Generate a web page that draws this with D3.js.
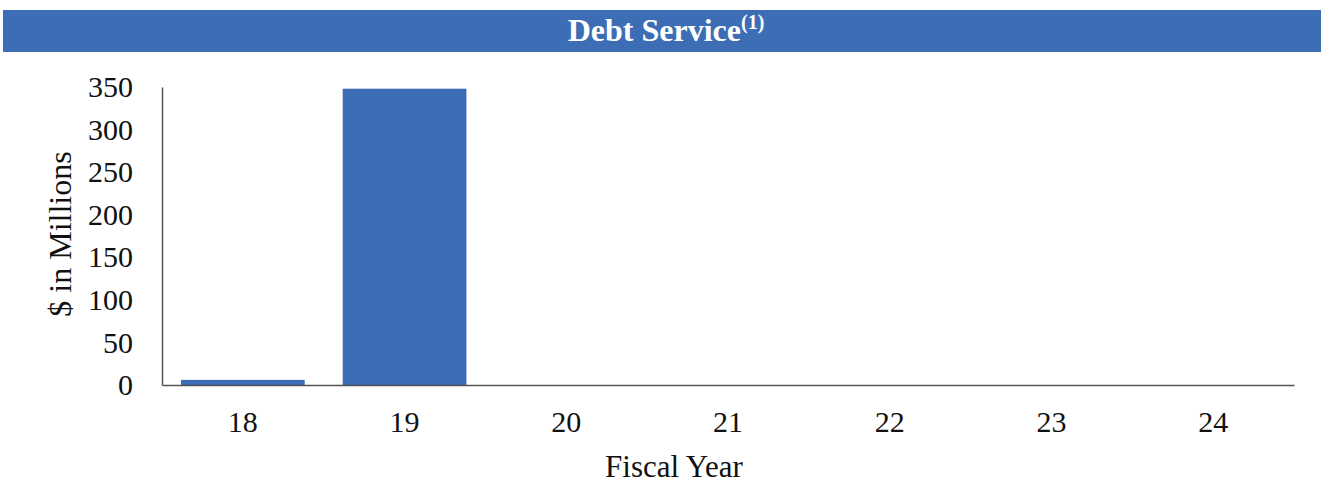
<!DOCTYPE html>
<html><head><meta charset="utf-8">
<script src="https://cdn.jsdelivr.net/npm/d3@7"></script>
<style>body{margin:0;background:#fff}</style>
</head><body>
<svg id="c" width="1324" height="491"></svg>
<script>
const categories = ["18","19","20","21","22","23","24"];
const values = [6, 348, 0, 0, 0, 0, 0];
const yTicks = [0,50,100,150,200,250,300,350];

const svg = d3.select("#c");
const W = 1324, H = 491;
const m = {left:162, right:W-1294, top:87, bottom:H-385};
const x = d3.scaleBand().domain(categories).range([m.left, W-m.right]).paddingInner(0.235).paddingOuter(0.1175);
const y = d3.scaleLinear().domain([0,350]).range([H-m.bottom, m.top]);

// title band
svg.append("rect").attr("x",3).attr("y",10).attr("width",1318).attr("height",42).attr("fill","#3d6db5");
const t = svg.append("text").attr("x",666).attr("y",41).attr("text-anchor","middle")
  .attr("font-family","Liberation Serif").attr("font-weight","bold").attr("font-size",32).attr("fill","#fff");
t.append("tspan").text("Debt Service");
t.append("tspan").attr("font-size",20).attr("dy",-12).text("(1)");

// bars
svg.selectAll("rect.bar").data(values).join("rect").attr("class","bar")
  .attr("x",(d,i)=>x(categories[i])).attr("width",x.bandwidth())
  .attr("y",d=>y(d)).attr("height",d=>y(0)-y(d)).attr("fill","#3d6db5");

// axes
const ya = svg.append("g").attr("transform",`translate(${m.left},0)`)
  .call(d3.axisLeft(y).tickValues(yTicks).tickSize(0).tickPadding(29));
ya.select(".domain").attr("stroke","#555").attr("stroke-width",1.5);
ya.selectAll("text").attr("font-family","Liberation Serif").attr("font-size",30).attr("fill","#111");

const xa = svg.append("g").attr("transform",`translate(0,${H-m.bottom})`)
  .call(d3.axisBottom(x).tickSize(0).tickPadding(26));
xa.select(".domain").attr("stroke","#555").attr("stroke-width",1.5);
xa.selectAll("text").attr("font-family","Liberation Serif").attr("font-size",30).attr("fill","#111");

svg.append("text").attr("x",674).attr("y",477).attr("text-anchor","middle")
  .attr("font-family","Liberation Serif").attr("font-size",31).attr("fill","#111").text("Fiscal Year");
svg.append("text").attr("transform","translate(71,234) rotate(-90)").attr("text-anchor","middle")
  .attr("font-family","Liberation Serif").attr("font-size",32).attr("fill","#111").text("$ in Millions");
</script>
</body></html>
